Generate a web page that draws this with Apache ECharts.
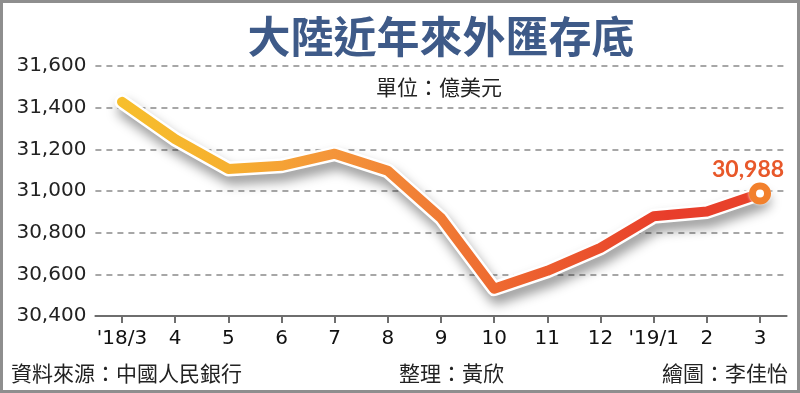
<!DOCTYPE html>
<html>
<head>
<meta charset="utf-8">
<script src="https://cdn.jsdelivr.net/npm/echarts@6/dist/echarts.min.js"></script>
<style>
html,body{margin:0;padding:0;background:#fff;}
#wrap{position:relative;width:800px;height:393px;}
#chart{position:absolute;left:0;top:0;width:800px;height:393px;}
#frame{position:absolute;left:0;top:0;width:800px;height:393px;box-sizing:border-box;border:3px solid #8e8e8e;pointer-events:none;}
</style>
</head>
<body>
<div id="wrap"><div id="chart"></div><div id="frame"></div></div>
<script>
const categories = ["'18/3","4","5","6","7","8","9","10","11","12","'19/1","2","3"];
const reserves = [31428, 31249, 31106, 31121, 31179, 31097, 30870, 30531, 30617, 30727, 30879, 30902, 30988];
const yTicks = [30400, 30600, 30800, 31000, 31200, 31400, 31600];
const titleText = '大陸近年來外匯存底';
const unitText = '單位：億美元';
const sourceText = '資料來源：中國人民銀行';
const editorText = '整理：黃欣';
const artistText = '繪圖：李佳怡';

const fmt = v => String(v).replace(/\B(?=(\d{3})+(?!\d))/g, ',');
const numFont = '"DejaVu Sans", sans-serif';
const cjkFont = '"Noto Sans CJK TC", "Noto Sans CJK SC", sans-serif';

const lastIdx = reserves.length - 1;
const mainData = reserves.map((v, i) => i === lastIdx ? {
  value: v,
  symbol: 'circle',
  symbolSize: 15,
  itemStyle: {
    color: '#ffffff', borderColor: '#f2802c', borderWidth: 7,
    shadowColor: 'rgba(255,255,255,0.9)', shadowBlur: 3
  },
  label: {
    show: true, position: 'top', distance: 6, offset: [-12, 5],
    formatter: p => fmt(p.value),
    color: '#e8582a', fontSize: 23, fontWeight: 'bold', fontFamily: 'Lato, "DejaVu Sans", sans-serif'
  }
} : v);

const chart = echarts.init(document.getElementById('chart'), null, { renderer: 'canvas' });
chart.setOption({
  backgroundColor: '#ffffff',
  animation: false,
  grid: { left: 95.4, right: 13.4, top: 66, bottom: 77, containLabel: false },
  xAxis: {
    type: 'category',
    data: categories,
    boundaryGap: true,
    axisLine: { show: true, lineStyle: { color: '#6e6e6e', width: 2 } },
    axisTick: { show: true, alignWithLabel: true, interval: 0, length: 7, lineStyle: { color: '#6e6e6e', width: 2 } },
    axisLabel: { interval: 0, hideOverlap: false, color: '#111', fontSize: 20, fontFamily: numFont, margin: 13 },
    splitLine: { show: false }
  },
  yAxis: {
    type: 'value',
    min: yTicks[0], max: yTicks[yTicks.length - 1], interval: 200,
    axisLine: { show: false },
    axisTick: { show: false },
    axisLabel: { color: '#222', fontSize: 20, fontFamily: numFont, margin: 9, formatter: v => fmt(v) },
    splitLine: { show: true, lineStyle: { color: '#8a8a8a', width: 1.5, type: [6, 5] } }
  },
  series: [
    {
      type: 'line', data: reserves, symbol: 'none', silent: true, z: 2,
      lineStyle: { color: '#ffffff', width: 15, join: 'round', cap: 'round',
        shadowColor: 'rgba(0,0,0,0.4)', shadowBlur: 12, shadowOffsetY: 8, shadowOffsetX: 3 }
    },
    {
      type: 'line', data: mainData, symbol: 'none', z: 3,
      lineStyle: {
        width: 10, join: 'round', cap: 'round',
        color: new echarts.graphic.LinearGradient(0, 0, 1, 0, [
          { offset: 0, color: '#f7bf2c' },
          { offset: 0.17, color: '#f6b02f' },
          { offset: 0.33, color: '#f4953a' },
          { offset: 0.5, color: '#f07a34' },
          { offset: 0.58, color: '#ee6a30' },
          { offset: 0.75, color: '#ea4e2c' },
          { offset: 0.85, color: '#e83d2b' },
          { offset: 1, color: '#e8432b' }
        ])
      }
    }
  ],
  graphic: [
    { type: 'text', x: 441, y: 37, style: { text: titleText, fill: '#3e5a88', font: 'bold 43px ' + cjkFont, align: 'center', verticalAlign: 'middle' }, z: 10 },
    { type: 'text', x: 376, y: 87, style: { text: unitText, fill: '#222', font: '21px ' + cjkFont, verticalAlign: 'middle' } },
    { type: 'text', x: 11, y: 373, style: { text: sourceText, fill: '#222', font: '21px ' + cjkFont, verticalAlign: 'middle' } },
    { type: 'text', x: 399, y: 373, style: { text: editorText, fill: '#222', font: '21px ' + cjkFont, verticalAlign: 'middle' } },
    { type: 'text', x: 788, y: 373, style: { text: artistText, fill: '#222', font: '21px ' + cjkFont, verticalAlign: 'middle', align: 'right' } }
  ]
});
</script>
</body>
</html>
